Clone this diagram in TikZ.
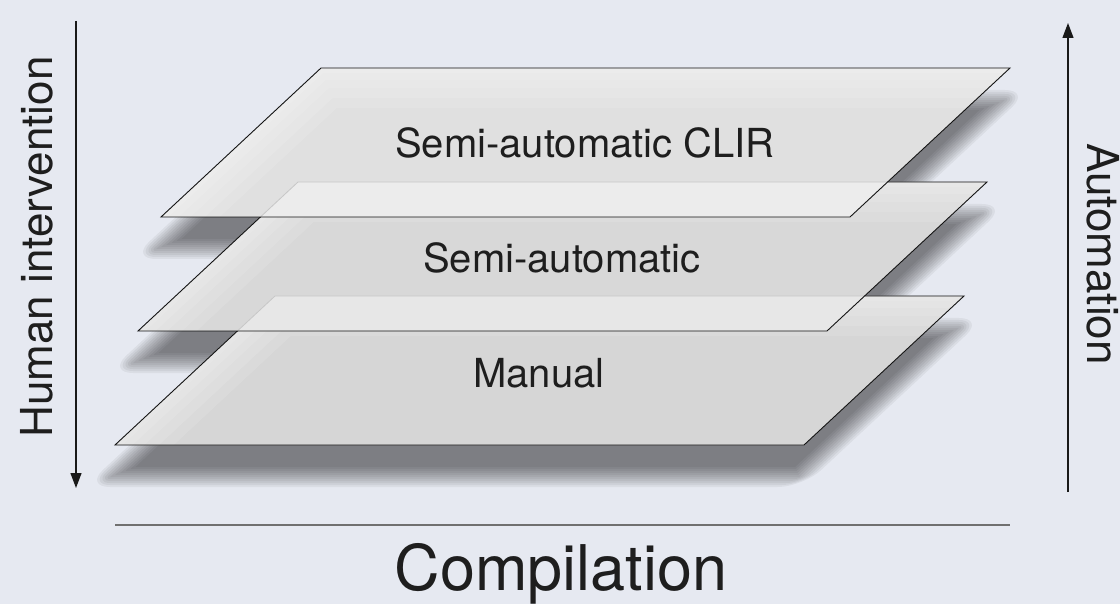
\documentclass[tikz,border=0pt]{standalone}
\usepackage{fontspec}
\setmainfont{TeX Gyre Heros}
\usetikzlibrary{arrows.meta}
\definecolor{bg}{RGB}{230,233,241}
\definecolor{topfill}{RGB}{224,224,224}
\definecolor{midfill}{RGB}{216,216,216}
\definecolor{botfill}{RGB}{214,214,214}
\definecolor{inktext}{RGB}{30,30,30}
\definecolor{baseline}{RGB}{112,112,112}
% parallelogram plane: front-left x, front y, grow radius
\newcommand\pplane[3]{({#1-2.54118*(#3)},{#2+(#3)}) -- ({#1+689+0.39352*(#3)},{#2+(#3)}) -- ({#1+849+2.54118*(#3)},{#2-149-(#3)}) -- ({#1+160-0.39352*(#3)},{#2-149-(#3)}) -- cycle}
\newcommand\pglow[2]{({#1},{#2}) -- ({#1+160},{#2-149}) -- ({#1+849},{#2-149})}
\begin{document}
\begin{tikzpicture}[x=1pt,y=-1pt,
  edge/.style={draw=black!92,line width=0.9pt},
  hidden/.style={draw=black!22,line width=0.8pt},
  planelabel/.style={font=\fontsize{40}{44}\selectfont,text=inktext,anchor=base,inner sep=0pt},
  axislabel/.style={font=\fontsize{44}{48}\selectfont,text=inktext,anchor=base,inner sep=0pt},
  axisarrow/.style={draw=black!90,line width=1.2pt,-{Triangle[length=15pt,width=11pt]}},
  shadowlayer/.style={fill=black,opacity=0.05},
  glowlayer/.style={draw=white,opacity=0.11,line join=round}]
\fill[bg] (0,0) rectangle (1120,604);
\useasboundingbox (0,0) rectangle (1120,604);

% shadows (blurred by stacked grown copies)
\foreach \xo/\yf in {110/477,133/363,156/249}{
  \foreach \r in {-10,-8,...,10}{
    \pgfmathsetmacro\rc{max(0.01,2.54*\r)}
    \fill[shadowlayer,rounded corners=\rc pt] \pplane{\xo}{\yf}{\r};
  }
}

% bottom plane
\fill[botfill] \pplane{115}{445}{0};
\begin{scope}
  \clip \pplane{115}{445}{0};
  \foreach \w in {80,60,40,24,10}{\draw[glowlayer,line width=\w pt] \pglow{115}{445};}
\end{scope}
\draw[edge] \pplane{115}{445}{0};

% middle plane
\fill[midfill] \pplane{138}{331}{0};
\begin{scope}
  \clip \pplane{138}{331}{0};
  \foreach \w in {80,60,40,24,10}{\draw[glowlayer,line width=\w pt] \pglow{138}{331};}
  \fill[white,opacity=0.4] \pplane{115}{445}{0};
  \draw[hidden] \pplane{115}{445}{0};
\end{scope}
\draw[edge] \pplane{138}{331}{0};

% top plane
\fill[topfill] \pplane{161}{217}{0};
\begin{scope}
  \clip \pplane{161}{217}{0};
  \foreach \w in {80,60,40,24,10}{\draw[glowlayer,line width=\w pt] \pglow{161}{217};}
  \fill[white,opacity=0.4] \pplane{138}{331}{0};
  \draw[hidden] \pplane{138}{331}{0};
\end{scope}
\draw[edge] \pplane{161}{217}{0};

% plane labels
\node[planelabel] (clir) at (585,158) {Semi-automatic CLIR};
\node[planelabel] (semi) at (562,273) {Semi-automatic};
\node[planelabel] (manual) at (539,387) {Manual};

% axes
\coordinate (hTop) at (76,21);
\coordinate (hBot) at (76,488);
\coordinate (aBot) at (1068,492);
\coordinate (aTop) at (1068,23);
\draw[axisarrow] (hTop) -- (hBot);
\draw[axisarrow] (aBot) -- (aTop);
\node[axislabel,rotate=90] (human) at (52,247) {Human intervention};
\node[axislabel,rotate=-90] (auto) at (1087,254) {Automation};

% compilation baseline
\coordinate (cL) at (115,525);
\coordinate (cR) at (1010,525);
\draw[draw=baseline,line width=1.5pt] (cL) -- (cR);
\node[font=\fontsize{63}{68}\selectfont,text=inktext,anchor=base,inner sep=0pt] (comp) at (561,590) {Compilation};
\end{tikzpicture}
\end{document}
